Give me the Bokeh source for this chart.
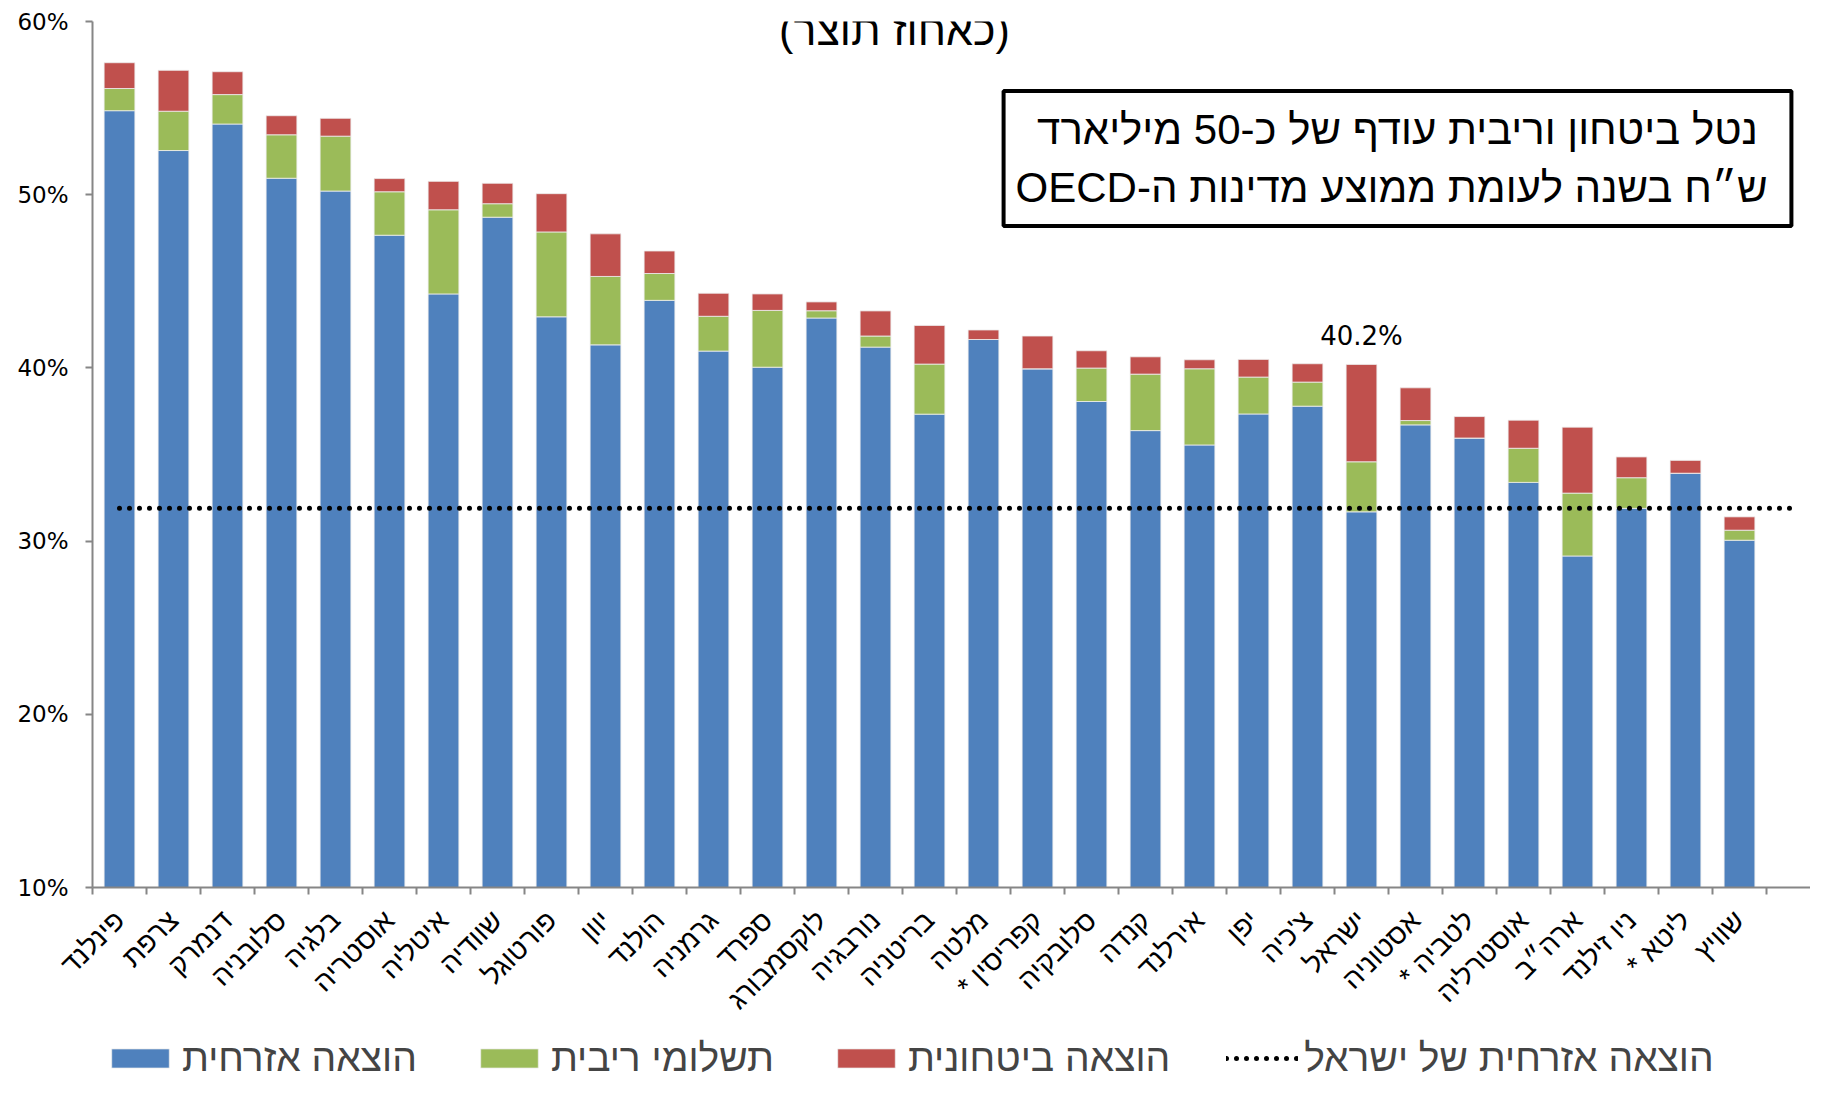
import math
from bokeh.plotting import figure
from bokeh.layouts import column
from bokeh.models import (Range1d, FixedTicker, Label, Legend, LegendItem,
                          ColumnDataSource)
from bokeh.embed import file_html
from bokeh.resources import INLINE

# ---------------- data ----------------
countries = ["פינלנד", "צרפת", "דנמרק", "סלובניה", "בלגיה", "אוסטריה", "איטליה",
             "שוודיה", "פורטוגל", "יוון", "הולנד", "גרמניה", "ספרד", "לוקסמבורג",
             "נורבגיה", "בריטניה", "מלטה", "קפריסין *", "סלובקיה", "קנדה", "אירלנד",
             "יפן", "צ'כיה", "ישראל", "אסטוניה", "לטביה *", "אוסטרליה", "ארה״ב",
             "ניו זילנד", "ליטא *", "שוויץ"]
civil = [54.85, 52.55, 54.08, 50.95, 50.21, 47.66, 44.27, 48.70, 42.95, 41.33, 43.90,
         40.97, 40.04, 42.88, 41.20, 37.33, 41.64, 39.95, 38.06, 36.38, 35.55,
         37.34, 37.79, 31.69, 36.71, 35.95, 33.39, 29.14, 31.89, 33.92, 30.05]
interest = [1.28, 2.27, 1.70, 2.51, 3.17, 2.51, 4.86, 0.78, 4.90, 3.95, 1.55,
            2.01, 3.28, 0.42, 0.64, 2.89, 0.00, 0.00, 1.93, 3.26, 4.40,
            2.13, 1.39, 2.89, 0.25, 0.00, 1.97, 3.63, 1.77, 0.00, 0.58]
defense = [1.49, 2.36, 1.32, 1.10, 1.03, 0.76, 1.64, 1.18, 2.21, 2.46, 1.30,
           1.33, 0.95, 0.51, 1.45, 2.23, 0.55, 1.89, 1.00, 1.00, 0.52,
           1.02, 1.06, 5.62, 1.89, 1.24, 1.62, 3.81, 1.20, 0.74, 0.77]
israel_civil_level = 31.9
y_ticks = [10, 20, 30, 40, 50, 60]
y_tick_labels = ["10%", "20%", "30%", "40%", "50%", "60%"]
series_names = ["הוצאה אזרחית", "תשלומי ריבית", "הוצאה ביטחונית"]
line_name = "הוצאה אזרחית של ישראל"
title_text = "(כאחוז תוצר)"
box_lines = ["נטל ביטחון וריבית עודף של כ-50 מיליארד",
             "ש״ח בשנה לעומת  ממוצע מדינות ה-OECD"]

BLUE, GREEN, RED = "#4F81BD", "#9BBB59", "#C0504D"
COLORS = [BLUE, GREEN, RED]
AXIS = "#868686"
HEB = "Liberation Sans"
NUM = "DejaVu Sans"


def rtl(s):
    # right-to-left embedding so neutral characters sit where Hebrew readers expect
    return "\u202b" + s + "\u202c"


n = len(countries)
xs = list(range(1, n + 1))
src = ColumnDataSource(dict(x=xs, civil=civil, interest=interest, defense=defense))

FIG_W = 1810
H1, H2 = 1032, 48
LEFT, TOP, BOTTOM = 92, 21, 145
SLOT = 54.0
p = figure(width=FIG_W, height=H1,
           x_range=Range1d(0.5, 0.5 + (FIG_W - LEFT) / SLOT),
           y_range=Range1d(y_ticks[0], y_ticks[-1]),
           output_backend="svg", toolbar_location=None,
           min_border_left=LEFT, min_border_right=0, min_border_top=TOP,
           min_border_bottom=BOTTOM)
p.outline_line_color = None
p.xgrid.visible = False
p.ygrid.visible = False

BAR_STYLE = dict(line_color="#eeeeee", line_width=1, line_alpha=0.8)
LINE_STYLE = dict(line_color="black", line_width=5, line_dash="0 10", line_cap="round")

bars = p.vbar_stack(["civil", "interest", "defense"], x="x", width=0.57, source=src,
                    fill_color=COLORS, **BAR_STYLE)

p.line(x=[xs[0], xs[-1] + 1], y=[israel_civil_level, israel_civil_level], **LINE_STYLE)

# x axis
p.xaxis.ticker = FixedTicker(ticks=xs, minor_ticks=[x - 0.5 for x in xs] + [n + 0.5, n + 1.5])
p.xaxis.major_label_overrides = {x: rtl(c) for x, c in zip(xs, countries)}
p.xaxis.major_label_orientation = math.pi / 4
p.xaxis.major_label_text_font = HEB
p.xaxis.major_label_text_font_size = "28px"
p.xaxis.major_label_text_color = "black"
p.xaxis.major_tick_line_color = None
p.xaxis.minor_tick_line_color = AXIS
p.xaxis.minor_tick_out = 7
p.xaxis.minor_tick_in = 0
p.xaxis.axis_line_color = AXIS
p.xaxis.axis_line_width = 2
p.xaxis.minor_tick_line_width = 2
p.xaxis.major_label_standoff = 21

# y axis
p.yaxis.ticker = FixedTicker(ticks=y_ticks, minor_ticks=[])
p.yaxis.major_label_overrides = {t: l for t, l in zip(y_ticks, y_tick_labels)}
p.yaxis.major_label_text_font = NUM
p.yaxis.major_label_text_font_size = "23px"
p.yaxis.major_label_text_color = "black"
p.yaxis.axis_line_color = AXIS
p.yaxis.axis_line_width = 2
p.yaxis.major_tick_line_color = AXIS
p.yaxis.major_tick_line_width = 2
p.yaxis.major_tick_out = 7
p.yaxis.major_tick_in = 0
p.yaxis.major_label_standoff = 17

# value label over Israel
isr = countries.index("ישראל")
isr_total = civil[isr] + interest[isr] + defense[isr]
p.add_layout(Label(x=xs[isr], y=isr_total, text=f"{isr_total:.1f}%", text_align="center",
                   text_baseline="bottom", y_offset=13, text_font=NUM,
                   text_font_size="26px", text_color="black"))

# title inside plot
frame_h = H1 - TOP - BOTTOM
p.add_layout(Label(x=802, y=frame_h - 8, x_units="screen", y_units="screen",
                   text=rtl(title_text), text_align="center", text_baseline="middle",
                   text_font=HEB, text_font_size="43px", text_color="black"))

# boxed note
p.add_layout(Label(x=1305, y=frame_h - 137, x_units="screen", y_units="screen",
                   text="\n".join(rtl(s) for s in box_lines),
                   text_align="center", text_baseline="middle", text_font=HEB,
                   text_font_size="42px", text_line_height=1.23, text_color="black",
                   border_line_color="black", border_line_width=4,
                   background_fill_color="white", padding=(12, 15)))

# ---------------- legend strip (same styles; its glyphs sit outside the visible range) ----------------
q = figure(width=FIG_W, height=H2, x_range=Range1d(0, 1), y_range=Range1d(0, 1),
           output_backend="svg", toolbar_location=None,
           x_axis_location=None, y_axis_location=None,
           min_border_left=0, min_border_right=0, min_border_top=0, min_border_bottom=0)
q.outline_line_color = None
q.xgrid.visible = False
q.ygrid.visible = False
leg_bars = [q.vbar(x=[-5], top=[-5], width=0.5, fill_color=c, **BAR_STYLE) for c in COLORS]
leg_line = q.line(x=[-5, -4], y=[-5, -5], **LINE_STYLE)

legend = Legend(items=[LegendItem(label=rtl(series_names[i]), renderers=[leg_bars[i]])
                       for i in range(3)] +
                      [LegendItem(label=rtl(line_name), renderers=[leg_line])],
                orientation="horizontal", location=(12, 0),
                label_text_font=HEB, label_text_font_size="39px",
                glyph_width=72, glyph_height=24, spacing=56, label_standoff=6,
                padding=0, border_line_color=None, background_fill_alpha=0,
                margin=0)
q.add_layout(legend)

layout = column(p, q, spacing=0)
open("out.html", "w").write(file_html(layout, INLINE))
